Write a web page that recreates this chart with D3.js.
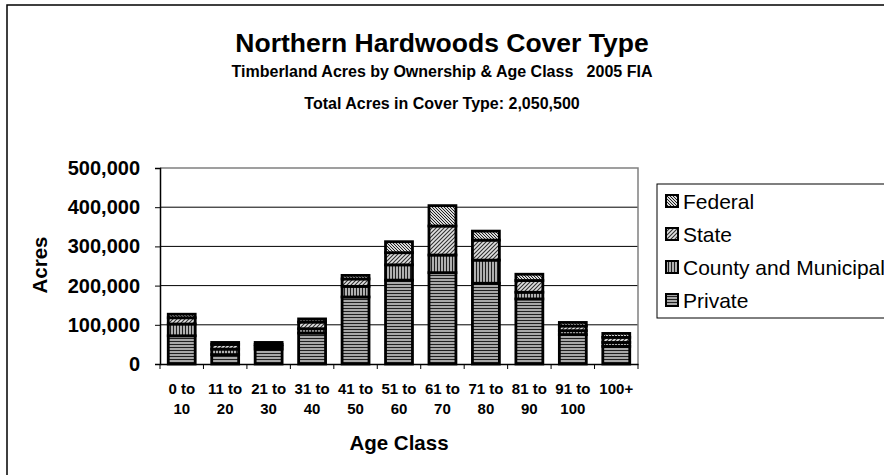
<!DOCTYPE html>
<html><head><meta charset="utf-8">
<script src="https://cdn.jsdelivr.net/npm/d3@7"></script>
<style>
html,body{margin:0;padding:0;background:#fff;overflow:hidden;}
text{font-family:Arial,"Liberation Sans",sans-serif;}
</style></head>
<body>
<svg id="c" width="884" height="475"></svg>
<script>
const categories = ["0 to 10","11 to 20","21 to 30","31 to 40","41 to 50","51 to 60","61 to 70","71 to 80","81 to 90","91 to 100","100+"];
const privateAcres = [72000, 24000, 38000, 79000, 171000, 214000, 233000, 206000, 166000, 75000, 45000];
const countyAcres  = [30000, 14000,  7000, 11000,  27000,  39000,  45000,  59000,  17000, 10000, 10000];
const stateAcres   = [16000, 12000,  5000, 17000,  19000,  31000,  74000,  51000,  30000, 12000, 13000];
const federalAcres = [ 9000,  5000,  5000,  8000,   9000,  28000,  52000,  23000,  16000,  9000, 10000];
const seriesNames = ["Private","County and Municipal","State","Federal"];
const yTicks = [0,100000,200000,300000,400000,500000];

const svg = d3.select("#c");
const defs = svg.append("defs");

function pat(id, w, h, draw){
  const p = defs.append("pattern").attr("id",id).attr("patternUnits","userSpaceOnUse").attr("width",w).attr("height",h);
  draw(p);
}
pat("pPrivate",4,3,p=>{
  p.append("rect").attr("width",4).attr("height",3).attr("fill","#a8a8a8");
  p.append("rect").attr("y",2).attr("width",4).attr("height",1).attr("fill","#202020");
});
pat("pCounty",3,4,p=>{
  p.append("rect").attr("width",3).attr("height",4).attr("fill","#b0b0b0");
  p.append("rect").attr("x",2).attr("width",1).attr("height",4).attr("fill","#202020");
});
pat("pState",4,4,p=>{
  p.append("rect").attr("width",4).attr("height",4).attr("fill","#e0e0e0");
  p.append("path").attr("d","M-1,1 L1,-1 M0,4 L4,0 M3,5 L5,3").attr("stroke","#303030").attr("stroke-width",1.1);
});
pat("pFederal",3,3,p=>{
  p.append("rect").attr("width",3).attr("height",3).attr("fill","#d8d8d8");
  p.append("path").attr("d","M-1,2 L1,4 M0,0 L3,3 M2,-1 L4,1").attr("stroke","#202020").attr("stroke-width",1);
});
const fills = ["url(#pPrivate)","url(#pCounty)","url(#pState)","url(#pFederal)"];

// outer border
svg.append("rect").attr("x",7).attr("y",5).attr("width",900).attr("height",500)
  .attr("fill","none").attr("stroke","#000").attr("stroke-width",1.5);

// titles
svg.append("text").attr("x",442).attr("y",52).attr("text-anchor","middle")
  .attr("font-size",26.5).attr("font-weight","bold").text("Northern Hardwoods Cover Type");
svg.append("text").attr("x",442).attr("y",77).attr("text-anchor","middle")
  .attr("font-size",16).attr("font-weight","bold").attr("xml:space","preserve")
  .text("Timberland Acres by Ownership & Age Class   2005 FIA");
svg.append("text").attr("x",442).attr("y",109).attr("text-anchor","middle")
  .attr("font-size",16).attr("font-weight","bold").text("Total Acres in Cover Type: 2,050,500");

const x = d3.scaleBand().domain(categories).range([160,638]).paddingInner(0.38).paddingOuter(0.19);
const y = d3.scaleLinear().domain([0,500000]).range([364,168]);

// gridlines
svg.append("g").selectAll("line").data(yTicks.filter(d=>d>0 && d<500000)).join("line")
  .attr("x1",160).attr("x2",638).attr("y1",d=>y(d)).attr("y2",d=>y(d))
  .attr("stroke","#000").attr("stroke-width",1);
svg.append("path").attr("d",`M160,${y(500000)} H638 V${y(0)}`).attr("fill","none").attr("stroke","#808080").attr("stroke-width",1.5);

const rows = categories.map((c,i)=>({cat:c, Private:privateAcres[i], "County and Municipal":countyAcres[i], State:stateAcres[i], Federal:federalAcres[i]}));
const stack = d3.stack().keys(seriesNames)(rows);

const gBars = svg.append("g");
stack.forEach((s,si)=>{
  gBars.append("g").selectAll("rect").data(s).join("rect")
    .attr("x",d=>x(d.data.cat)).attr("width",x.bandwidth())
    .attr("y",d=>y(d[1])).attr("height",d=>y(d[0])-y(d[1]))
    .attr("fill",fills[si]).attr("stroke","#000").attr("stroke-width",2.8);
});

// y axis
const yAxis = d3.axisLeft(y).tickValues(yTicks).tickSize(5).tickFormat(d3.format(","));
const ga = svg.append("g").attr("transform","translate(160,0)").call(yAxis);
ga.select(".domain").attr("stroke","#000").attr("stroke-width",1.5);
ga.selectAll(".tick line").attr("stroke","#000");
ga.selectAll(".tick text").attr("font-size",20).attr("font-weight","bold").attr("fill","#000")
  .attr("font-family","Arial, 'Liberation Sans', sans-serif").attr("x",-20);

// x axis
const xAxis = d3.axisBottom(x).tickSize(0).tickFormat("");
const gx = svg.append("g").attr("transform",`translate(0,${y(0)})`).call(xAxis);
gx.select(".domain").attr("stroke","#000").attr("stroke-width",1.5);
const bounds = d3.range(categories.length+1).map(i=>x.range()[0] + i*x.step() - x.step()*x.paddingOuter() + x.step()*x.paddingOuter());
svg.append("g").selectAll("line").data(bounds).join("line")
  .attr("x1",d=>d).attr("x2",d=>d).attr("y1",y(0)).attr("y2",y(0)+5).attr("stroke","#000");

const lab = svg.append("g").selectAll("text").data(categories).join("text")
  .attr("x",d=>x(d)+x.bandwidth()/2).attr("y",394).attr("text-anchor","middle")
  .attr("font-size",15).attr("font-weight","bold");
lab.each(function(d){
  const m = d.match(/^(.*? to)\s+(.*)$/);
  const t = d3.select(this);
  if(m){
    t.append("tspan").attr("x",x(d)+x.bandwidth()/2).text(m[1]);
    t.append("tspan").attr("x",x(d)+x.bandwidth()/2).attr("dy",20).text(m[2]);
  } else t.text(d);
});

svg.append("text").attr("x",399).attr("y",450).attr("text-anchor","middle")
  .attr("font-size",20.5).attr("font-weight","bold").text("Age Class");
svg.append("text").attr("transform","translate(47,265) rotate(-90)").attr("text-anchor","middle")
  .attr("font-size",20.5).attr("font-weight","bold").text("Acres");

// legend
const leg = svg.append("g");
leg.append("rect").attr("x",657).attr("y",184).attr("width",300).attr("height",134)
  .attr("fill","#fff").attr("stroke","#000").attr("stroke-width",1);
const legItems = ["Federal","State","County and Municipal","Private"];
const legFill = {"Federal":fills[3],"State":fills[2],"County and Municipal":fills[1],"Private":fills[0]};
const li = leg.selectAll("g.li").data(legItems).join("g").attr("class","li")
  .attr("transform",(d,i)=>`translate(0,${201+i*33})`);
li.append("rect").attr("x",666).attr("y",-6).attr("width",12).attr("height",12)
  .attr("fill",d=>legFill[d]).attr("stroke","#000").attr("stroke-width",2);
li.append("text").attr("x",683).attr("y",7.5).attr("font-size",21).text(d=>d);
</script>
</body></html>
